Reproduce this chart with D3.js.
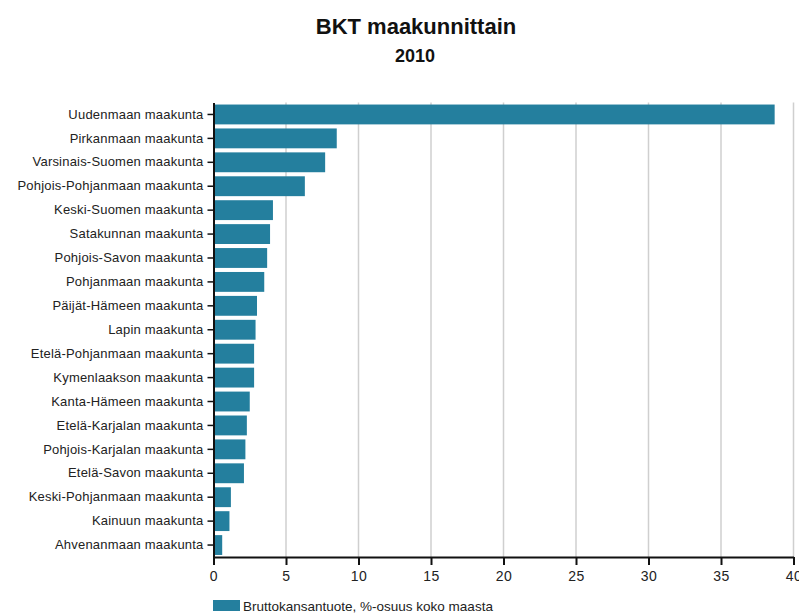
<!DOCTYPE html>
<html>
<head>
<meta charset="utf-8">
<script src="https://cdn.jsdelivr.net/npm/d3@7"></script>
<style>
  html, body { margin: 0; padding: 0; background: #fff; }
  svg { display: block; font-family: "Liberation Sans", Arial, sans-serif; }
</style>
</head>
<body>
<svg id="chart" width="799" height="614"></svg>
<script>
// Regional share of GDP, 2010 (% of whole country)
const regions = [
  "Uudenmaan maakunta",
  "Pirkanmaan maakunta",
  "Varsinais-Suomen maakunta",
  "Pohjois-Pohjanmaan maakunta",
  "Keski-Suomen maakunta",
  "Satakunnan maakunta",
  "Pohjois-Savon maakunta",
  "Pohjanmaan maakunta",
  "Päijät-Hämeen maakunta",
  "Lapin maakunta",
  "Etelä-Pohjanmaan maakunta",
  "Kymenlaakson maakunta",
  "Kanta-Hämeen maakunta",
  "Etelä-Karjalan maakunta",
  "Pohjois-Karjalan maakunta",
  "Etelä-Savon maakunta",
  "Keski-Pohjanmaan maakunta",
  "Kainuun maakunta",
  "Ahvenanmaan maakunta"
];
const shares = [38.7, 8.5, 7.7, 6.3, 4.1, 3.9, 3.7, 3.5, 3.0, 2.9, 2.8, 2.8, 2.5, 2.3, 2.2, 2.1, 1.2, 1.1, 0.6];
const xTicks = [0, 5, 10, 15, 20, 25, 30, 35, 40];
const titleText = "BKT maakunnittain";
const subtitleText = "2010";
const seriesName = "Bruttokansantuote, %-osuus koko maasta";

const barColor = "#247f9e";
const svg = d3.select("#chart");

const margin = { left: 213.5, right: 5.5, top: 102.5, bottom: 57 };
const W = 799, H = 614;

const x = d3.scaleLinear().domain([0, 40]).range([margin.left, W - margin.right]);
const y = d3.scaleBand().domain(regions).range([margin.top, H - margin.bottom]).paddingInner(0.17).paddingOuter(0.085);

// Title
svg.append("text").attr("x", 416).attr("y", 34).attr("text-anchor", "middle")
  .attr("font-size", 22).attr("font-weight", "bold").attr("fill", "#111").text(titleText);
svg.append("text").attr("x", 415).attr("y", 62).attr("text-anchor", "middle")
  .attr("font-size", 18).attr("font-weight", "bold").attr("fill", "#111").text(subtitleText);

// Vertical gridlines
svg.append("g").selectAll("line").data(xTicks.filter(d => d > 0)).join("line")
  .attr("x1", d => x(d)).attr("x2", d => x(d))
  .attr("y1", margin.top).attr("y2", H - margin.bottom)
  .attr("stroke", "#cfcfcf").attr("stroke-width", 1.5);

// Bars
svg.append("g").selectAll("rect").data(regions).join("rect")
  .attr("x", x(0))
  .attr("y", d => y(d))
  .attr("width", (d, i) => x(shares[i]) - x(0))
  .attr("height", y.bandwidth())
  .attr("fill", barColor);

// X axis
const xAxis = svg.append("g").attr("transform", `translate(0,${H - margin.bottom})`)
  .call(d3.axisBottom(x).tickValues(xTicks).tickSize(8).tickPadding(6).tickSizeOuter(0));
xAxis.select(".domain").attr("stroke", "#111").attr("stroke-width", 2);
xAxis.selectAll(".tick line").attr("stroke", "#111").attr("stroke-width", 2);
xAxis.selectAll(".tick text").attr("font-size", 14).attr("fill", "#222")
  .attr("letter-spacing", 0.5)
  .attr("font-family", "Liberation Sans, Arial, sans-serif");

// Y axis
const yAxis = svg.append("g").attr("transform", `translate(${x(0)},0)`)
  .call(d3.axisLeft(y).tickSize(6).tickPadding(4).tickSizeOuter(0));
yAxis.select(".domain").attr("stroke", "#111").attr("stroke-width", 2);
yAxis.selectAll(".tick line").attr("stroke", "#111").attr("stroke-width", 1.5);
yAxis.selectAll(".tick text").attr("font-size", 13).attr("fill", "#222")
  .attr("letter-spacing", 0.2)
  .attr("font-family", "Liberation Sans, Arial, sans-serif");

// Legend
const legend = svg.append("g").attr("transform", "translate(213,600)");
legend.append("rect").attr("x", 0).attr("y", 0).attr("width", 27).attr("height", 11).attr("fill", barColor);
legend.append("text").attr("x", 30).attr("y", 10.5).attr("font-size", 13.5).attr("fill", "#222").text(seriesName);
</script>
</body>
</html>
